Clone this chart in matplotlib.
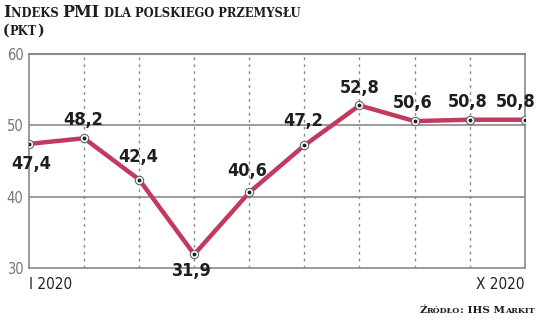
import matplotlib
matplotlib.use("Agg")
import matplotlib.pyplot as plt

months = list(range(10))
values = [47.4, 48.2, 42.4, 31.9, 40.6, 47.2, 52.8, 50.6, 50.8, 50.8]
labels = ["47,4", "48,2", "42,4", "31,9", "40,6", "47,2", "52,8", "50,6", "50,8", "50,8"]
yticks = [30, 40, 50, 60]
xlabels = ["I 2020", "X 2020"]

fig = plt.figure(figsize=(5.36, 3.24), dpi=100)
ax = fig.add_axes([0.054, 0.173, 0.925, 0.66])
ax.set_xlim(0, 9)
ax.set_ylim(30, 60)

for sp in ax.spines.values():
    sp.set_color("#8a8a8a")
    sp.set_linewidth(1.2)
ax.spines["top"].set_linewidth(1.5)

for y in [40, 50]:
    ax.axhline(y, color="#8a8a8a", lw=1.2, zorder=1)
for x in months[1:-1]:
    ax.axvline(x, color="#8a8a8a", lw=1.0, ls=(0, (2, 3)), zorder=1)

ax.plot(months, values, color="#c23a5e", lw=3.2, zorder=3, solid_joinstyle="miter")
ax.plot(months, values, ls="none", marker="o", ms=6, mfc="white", mec="#666666", mew=0.8, zorder=4)
ax.plot(months, values, ls="none", marker="o", ms=1.8, color="#222222", zorder=5)

ax.set_xticks([])
ax.set_yticks(yticks)
ax.set_yticklabels([str(v) for v in yticks], color="#777777", fontsize=10.5,
                   fontstretch="condensed")
ax.tick_params(axis="y", length=0, pad=4)

lab_font = dict(fontsize=13, fontweight="bold", color="#1e1e1e",
                family="DejaVu Sans", fontstretch="condensed")
# offsets in pixels (dx, dy) from the point
offsets = {0: (2, -20), 1: (-1, 18), 2: (-1, 23), 3: (-2, -17), 4: (-2, 21),
           5: (-1, 24), 6: (0, 17), 7: (-2, 18), 8: (-2, 18), 9: (-9, 18)}
for i, (v, t) in enumerate(zip(values, labels)):
    dx, dy = offsets[i]
    ax.annotate(t, (i, v), xytext=(dx * 0.72, dy * 0.72), textcoords="offset points",
                ha="center", va="center", zorder=6, **lab_font)

ax.text(0, -0.04, xlabels[0], transform=ax.transAxes, ha="left", va="top",
        fontsize=11, color="#222222", fontstretch="condensed")
ax.text(1, -0.04, xlabels[1], transform=ax.transAxes, ha="right", va="top",
        fontsize=11, color="#222222", fontstretch="condensed")

# small-caps texts
def smallcaps(x, y, parts, big, small, ha="left"):
    renderer = fig.canvas.get_renderer()
    texts = []
    cx = x
    for s, isbig in parts:
        t = fig.text(cx, y, s, fontsize=big if isbig else small, family="DejaVu Serif",
                     fontweight="bold", color="#1e1e1e", va="baseline")
        bb = t.get_window_extent(renderer)
        cx += bb.width / fig.bbox.width
        texts.append(t)
    if ha == "right":
        shift = cx - x
        for t in texts:
            px, py = t.get_position()
            t.set_position((px - shift, py))

smallcaps(0.006, 0.946, [("I", True), ("NDEKS ", False), ("PMI", True),
                         (" DLA POLSKIEGO PRZEMYSŁU", False)], 11.5, 8.3)
smallcaps(0.006, 0.893, [("(", True), ("PKT", False), (")", True)], 10, 8.3)
smallcaps(0.998, 0.034, [("Ź", True), ("RÓDŁO", False), (": IHS M", True), ("ARKIT", False)],
          7.5, 5.8, ha="right")

fig.savefig("out.png", dpi=100)
